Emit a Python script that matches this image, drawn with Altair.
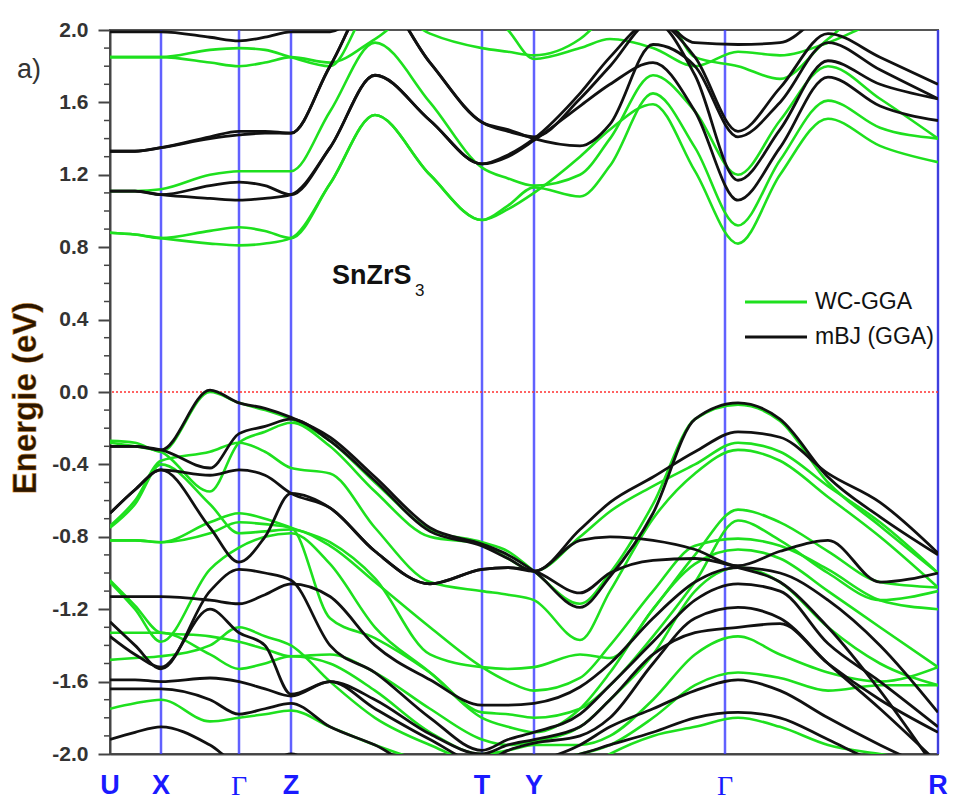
import altair as alt
import pandas as pd

# k-path grid (distance along path, arbitrary units)
K = [0, 25, 51, 100, 129, 155, 181, 220, 265, 320, 372, 398, 424, 470, 500, 543, 585, 628, 670, 718, 770, 828]

KPT_POS = [0, 51, 129, 181, 372, 424, 615, 828]
KPT_LBL = ["U", "X", "Γ", "Z", "T", "Y", "Γ", "R"]

# WC-GGA bands (eV)
gc1 = [0.88, 0.87, 0.85, 0.82, 0.81, 0.82, 0.85, 1.15, 1.53, 1.20, 0.95, 1.01, 1.10, 1.30, 1.45, 1.59, 1.22, 0.82, 1.20, 1.51, 1.36, 1.27]
gc2 = [0.88, 0.87, 0.85, 0.89, 0.91, 0.89, 0.85, 1.15, 1.53, 1.20, 0.95, 1.03, 1.13, 1.08, 1.25, 1.65, 1.35, 0.92, 1.28, 1.61, 1.46, 1.40]
gc3 = [1.11, 1.11, 1.12, 1.20, 1.22, 1.22, 1.22, 1.55, 1.93, 1.60, 1.24, 1.18, 1.14, 1.20, 1.40, 1.75, 1.55, 1.20, 1.50, 1.80, 1.62, 1.40]
gc4 = [1.85, 1.85, 1.85, 1.89, 1.90, 1.89, 1.85, 1.80, 2.15, 1.98, 1.90, 1.88, 1.86, 1.95, 2.10, 2.20, 1.85, 1.80, 1.73, 1.95, 2.15, 2.15]
gc5 = [1.85, 1.85, 1.85, 1.82, 1.80, 1.82, 1.85, 1.82, 1.95, 2.15, 2.15, 2.00, 1.84, 1.90, 1.95, 1.90, 1.80, 1.88, 1.86, 1.93, 2.05, 2.10]
gv1 = [-0.27, -0.28, -0.33, 0.00, -0.06, -0.10, -0.15, -0.27, -0.50, -0.76, -0.83, -0.88, -0.99, -1.17, -1.00, -0.62, -0.15, -0.07, -0.16, -0.50, -0.74, -1.00]
gv2 = [-0.28, -0.30, -0.33, -0.55, -0.28, -0.22, -0.17, -0.30, -0.55, -0.80, -0.84, -0.92, -0.99, -0.80, -0.66, -0.52, -0.40, -0.28, -0.33, -0.52, -0.72, -1.00]
gv3 = [-0.74, -0.60, -0.38, -0.33, -0.28, -0.33, -0.42, -0.45, -0.75, -1.05, -1.10, -1.12, -1.15, -1.37, -1.10, -0.70, -0.45, -0.32, -0.38, -0.58, -0.80, -1.08]
gv4 = [-0.82, -0.82, -0.83, -0.72, -0.67, -0.70, -0.75, -0.83, -1.03, -1.45, -1.52, -1.53, -1.52, -1.45, -1.47, -1.20, -0.90, -0.65, -0.72, -0.88, -1.05, -1.08]
gv5 = [-0.82, -0.82, -0.83, -0.78, -0.72, -0.73, -0.75, -1.25, -1.36, -1.55, -1.77, -1.78, -1.80, -1.75, -1.62, -1.35, -1.05, -0.71, -0.82, -1.00, -1.15, -1.10]
gv6 = [-0.75, -0.62, -0.40, -0.62, -0.78, -0.77, -0.76, -0.85, -1.05, -1.30, -1.52, -1.60, -1.65, -1.58, -1.40, -1.10, -0.85, -0.81, -0.85, -0.98, -1.15, -1.20]
gv7 = [-1.04, -1.18, -1.33, -1.35, -1.38, -1.42, -1.46, -1.45, -1.55, -1.75, -1.92, -1.95, -1.93, -1.85, -1.70, -1.45, -1.10, -0.97, -1.05, -1.30, -1.50, -1.62]
gv8 = [-1.33, -1.33, -1.33, -1.45, -1.53, -1.50, -1.46, -1.50, -1.65, -1.88, -2.00, -1.98, -1.95, -1.95, -1.90, -1.70, -1.45, -1.35, -1.45, -1.55, -1.60, -1.52]
gv9 = [-1.48, -1.47, -1.46, -1.40, -1.30, -1.35, -1.40, -1.60, -1.80, -1.95, -2.05, -2.05, -2.05, -2.00, -1.95, -1.80, -1.62, -1.55, -1.58, -1.65, -1.62, -1.62]
gv10 = [-1.75, -1.72, -1.70, -1.82, -1.80, -1.78, -1.76, -1.85, -1.95, -2.05, -2.10, -2.10, -2.10, -2.10, -2.00, -1.90, -1.85, -1.80, -1.85, -1.95, -2.00, -2.05]
gv11 = [-1.05, -1.20, -1.38, -0.98, -0.86, -0.80, -0.78, -0.95, -1.30, -1.55, -1.80, -1.85, -1.88, -1.75, -1.55, -1.20, -0.95, -0.87, -0.92, -1.10, -1.30, -1.52]

# mBJ (GGA) bands (eV)
bc1 = [1.11, 1.11, 1.09, 1.07, 1.06, 1.07, 1.09, 1.35, 1.75, 1.50, 1.26, 1.30, 1.39, 1.58, 1.70, 1.82, 1.55, 1.06, 1.35, 1.74, 1.58, 1.50]
bc2 = [1.11, 1.11, 1.09, 1.14, 1.16, 1.14, 1.09, 1.35, 1.75, 1.50, 1.26, 1.31, 1.40, 1.65, 1.85, 2.05, 1.75, 1.17, 1.45, 1.83, 1.70, 1.62]
bc3 = [1.33, 1.33, 1.35, 1.41, 1.44, 1.44, 1.43, 1.80, 2.20, 1.82, 1.49, 1.45, 1.40, 1.36, 1.48, 1.92, 1.80, 1.41, 1.60, 1.93, 1.78, 1.62]
bc4 = [1.33, 1.33, 1.35, 1.40, 1.42, 1.43, 1.43, 1.80, 2.20, 1.82, 1.49, 1.44, 1.41, 1.62, 1.80, 2.05, 1.85, 1.44, 1.68, 1.98, 1.85, 1.70]
bc5 = [1.99, 1.99, 1.99, 1.96, 1.94, 1.96, 1.99, 1.99, 2.15, 2.15, 2.15, 2.15, 2.15, 2.15, 2.15, 2.10, 1.93, 1.92, 1.93, 2.10, 2.15, 2.15]
bv1 = [-0.30, -0.30, -0.32, 0.01, -0.06, -0.09, -0.14, -0.25, -0.47, -0.75, -0.84, -0.90, -0.99, -1.19, -1.02, -0.67, -0.15, -0.06, -0.15, -0.47, -0.69, -0.90]
bv2 = [-0.30, -0.30, -0.32, -0.42, -0.23, -0.19, -0.15, -0.27, -0.49, -0.77, -0.85, -0.92, -0.99, -0.76, -0.61, -0.47, -0.33, -0.22, -0.25, -0.45, -0.61, -0.89]
bv3 = [-0.67, -0.54, -0.43, -0.46, -0.43, -0.46, -0.56, -0.64, -0.88, -1.06, -0.98, -0.97, -0.99, -0.82, -0.80, -0.82, -0.87, -0.96, -0.88, -0.82, -1.05, -1.00]
bv4 = [-0.67, -0.54, -0.43, -0.75, -0.94, -0.80, -0.56, -0.64, -0.88, -1.06, -0.98, -0.97, -0.99, -1.11, -1.00, -0.93, -0.92, -0.97, -1.05, -1.30, -1.65, -2.10]
bv5 = [-1.13, -1.13, -1.13, -1.15, -1.17, -1.12, -1.06, -1.13, -1.40, -1.59, -1.73, -1.73, -1.72, -1.63, -1.50, -1.25, -1.05, -0.97, -1.00, -1.15, -1.40, -1.77]
bv6 = [-1.27, -1.40, -1.53, -1.10, -0.98, -1.00, -1.04, -1.40, -1.55, -1.80, -1.98, -1.92, -1.88, -1.78, -1.62, -1.38, -1.15, -1.06, -1.10, -1.39, -1.60, -1.85]
bv7 = [-1.35, -1.45, -1.52, -1.20, -1.33, -1.40, -1.67, -1.60, -1.75, -1.92, -2.05, -1.98, -1.94, -1.90, -1.80, -1.50, -1.25, -1.19, -1.25, -1.50, -1.75, -2.05]
bv8 = [-1.59, -1.59, -1.60, -1.58, -1.60, -1.64, -1.68, -1.60, -1.70, -1.89, -2.00, -1.95, -1.92, -1.85, -1.70, -1.45, -1.33, -1.30, -1.28, -1.50, -1.70, -1.88]
bv9 = [-1.64, -1.64, -1.64, -1.70, -1.78, -1.75, -1.72, -1.85, -1.95, -2.10, -2.10, -2.10, -2.05, -1.95, -1.85, -1.75, -1.65, -1.59, -1.65, -1.80, -1.95, -2.10]
bv10 = [-1.92, -1.88, -1.85, -1.95, -2.05, -2.05, -2.00, -2.10, -2.10, -2.10, -2.10, -2.10, -2.05, -2.00, -1.95, -1.88, -1.80, -1.77, -1.80, -1.92, -2.05, -2.10]

WC_BANDS = [gc1, gc2, gc3, gc4, gc5, gv1, gv2, gv3, gv4, gv5, gv6, gv7, gv8, gv9, gv10, gv11]
MBJ_BANDS = [bc1, bc2, bc3, bc4, bc5, bv1, bv2, bv3, bv4, bv5, bv6, bv7, bv8, bv9, bv10]

Y_MAJOR = [-2.0, -1.6, -1.2, -0.8, -0.4, 0.0, 0.4, 0.8, 1.2, 1.6, 2.0]
Y_MINOR = [-1.9, -1.8, -1.7, -1.5, -1.4, -1.3, -1.1, -1.0, -0.9, -0.7, -0.6, -0.5,
           -0.3, -0.2, -0.1, 0.1, 0.2, 0.3, 0.5, 0.6, 0.7, 0.9, 1.0, 1.1, 1.3, 1.4, 1.5, 1.7, 1.8, 1.9]

SERIES = ["WC-GGA", "mBJ (GGA)"]
COLORS = ["#1ee01e", "#111111"]


def long_table(bands, name):
    rows = []
    for i, band in enumerate(bands):
        for k, e in zip(K, band):
            rows.append({"k": k, "E": e, "band": f"{name}-{i}", "series": name})
    return pd.DataFrame(rows)


wc_df = long_table(WC_BANDS, SERIES[0])
mbj_df = long_table(MBJ_BANDS, SERIES[1])

W, H = 828, 724
SANS = "Liberation Sans"

xscale = alt.Scale(domain=[0, 828], nice=False, zero=False)
yscale = alt.Scale(domain=[-2, 2], nice=False, zero=False)

yaxis = alt.Axis(
    values=Y_MAJOR,
    labelExpr="(datum.value < 0 ? '-' : '') + format(abs(datum.value), '.1f')",
    labelFont=SANS, labelFontWeight="bold", labelFontSize=21,
    labelColor="#333333", labelPadding=10,
    tickSize=12, tickWidth=2, tickColor="#444444",
    domainColor="#444444", domainWidth=2, grid=False, title="",
)
xaxis = alt.Axis(labels=False, ticks=False, domain=True, domainColor="#444444",
                 domainWidth=2, grid=False, title="")

X = alt.X("k:Q", scale=xscale, axis=xaxis)
Y = alt.Y("E:Q", scale=yscale, axis=yaxis)

kline_df = pd.DataFrame({"k": KPT_POS[1:]})
vlines = alt.Chart(kline_df).mark_rule(color="#3a3aff", strokeWidth=2.5, opacity=0.8).encode(x=X)

zero = alt.Chart(pd.DataFrame({"E": [0.0]})).mark_rule(
    color="#ff3030", strokeDash=[2, 2], strokeWidth=1.3).encode(y=Y)

minor = alt.Chart(pd.DataFrame({"E": Y_MINOR})).mark_rule(
    color="#444444", strokeWidth=1.5).encode(y=Y, x=alt.value(-6), x2=alt.value(0))

color = alt.Color("series:N", scale=alt.Scale(domain=SERIES, range=COLORS), legend=None)

green = alt.Chart(wc_df).mark_line(interpolate="monotone", strokeWidth=2.6, clip=True).encode(
    x=X, y=Y, detail="band:N", color=color)
black = alt.Chart(mbj_df).mark_line(interpolate="monotone", strokeWidth=2.8, clip=True).encode(
    x=X, y=Y, detail="band:N", color=color)

lat_df = pd.DataFrame({"k": [p for p, l in zip(KPT_POS, KPT_LBL) if l != "Γ"],
                       "lbl": [l for l in KPT_LBL if l != "Γ"]})
gam_df = pd.DataFrame({"k": [p for p, l in zip(KPT_POS, KPT_LBL) if l == "Γ"],
                       "lbl": [l for l in KPT_LBL if l == "Γ"]})
klabels = alt.Chart(lat_df).mark_text(
    font=SANS, fontWeight="bold", fontSize=27, color="#1a1aff", baseline="alphabetic", align="center"
).encode(x=X, y=alt.value(H + 40), text="lbl:N")
glabels = alt.Chart(gam_df).mark_text(
    font="Liberation Serif", fontSize=28, color="#1a1aff", baseline="alphabetic", align="center"
).encode(x=X, y=alt.value(H + 41), text="lbl:N")

one = pd.DataFrame({"t": [""]})
ytitle = alt.Chart(one).mark_text(
    text="Energie (eV)", angle=270, font=SANS, fontWeight="bold", fontSize=33,
    color="#2a1500", stroke="#d0801a", strokeWidth=0.7, strokeOpacity=0.7,
    align="center", baseline="middle"
).encode(x=alt.value(-84), y=alt.value(368))

panel = alt.Chart(one).mark_text(
    text="a)", font=SANS, fontSize=27, color="#333333", align="left", baseline="middle"
).encode(x=alt.value(-93), y=alt.value(40))

formula = alt.Chart(one).mark_text(
    text="SnZrS", font=SANS, fontWeight="bold", fontSize=27, color="#111111",
    align="left", baseline="alphabetic").encode(x=alt.value(222), y=alt.value(254))
sub = alt.Chart(one).mark_text(
    text="3", font=SANS, fontSize=17, color="#111111",
    align="left", baseline="alphabetic").encode(x=alt.value(305), y=alt.value(266))

leg_g = alt.Chart(one).mark_rule(color=COLORS[0], strokeWidth=3).encode(
    x=alt.value(635), x2=alt.value(697), y=alt.value(272))
leg_b = alt.Chart(one).mark_rule(color=COLORS[1], strokeWidth=3).encode(
    x=alt.value(635), x2=alt.value(697), y=alt.value(307))
leg_gt = alt.Chart(one).mark_text(
    text=SERIES[0], font=SANS, fontSize=23, color="#111111", align="left", baseline="middle"
).encode(x=alt.value(705), y=alt.value(272))
leg_bt = alt.Chart(one).mark_text(
    text=SERIES[1], font=SANS, fontSize=23, color="#111111", align="left", baseline="middle"
).encode(x=alt.value(705), y=alt.value(307))

chart = alt.layer(
    vlines, zero, minor, green, black, klabels, glabels, ytitle, panel,
    formula, sub, leg_g, leg_b, leg_gt, leg_bt
).properties(
    width=W, height=H,
    autosize=alt.AutoSizeParams(type="none"),
    padding={"left": 110, "top": 30, "right": 17, "bottom": 48},
    background="white",
).configure_view(stroke="#555555", strokeWidth=2)

chart.save("out.html", embed_options={"renderer": "svg", "actions": False})
